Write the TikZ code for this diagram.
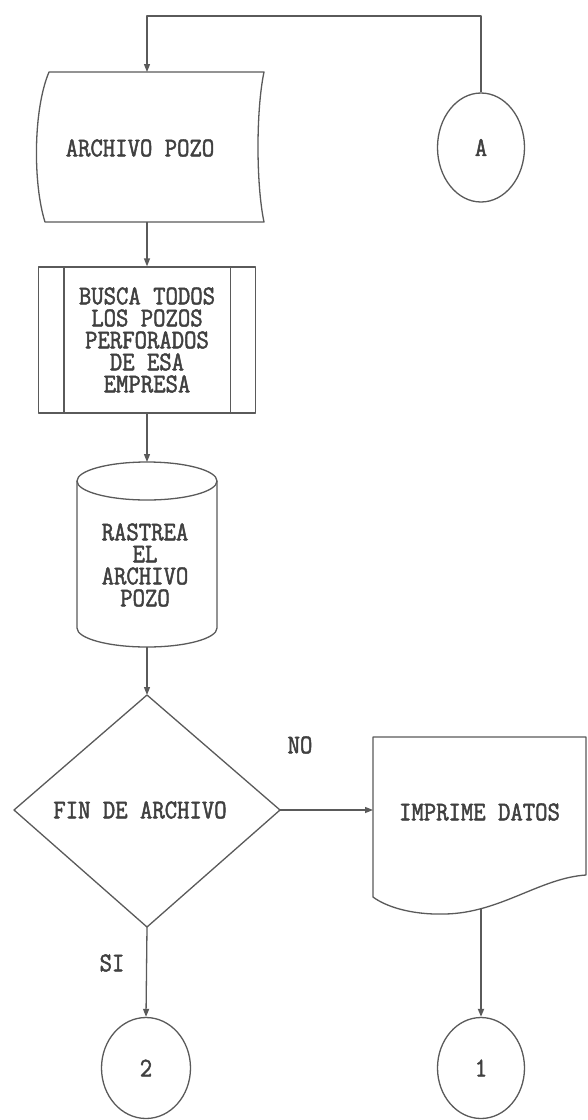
\documentclass[tikz,border=0pt]{standalone}
\usepackage{fontspec}
\newfontfamily\plt[FakeStretch=0.89,FakeBold=1.8]{Latin Modern Mono}
\usetikzlibrary{arrows.meta,shapes.geometric}
\definecolor{ink}{HTML}{5A5A5A}
\definecolor{txt}{HTML}{404040}
\tikzset{
  plotfont/.style={font=\plt\fontsize{27}{22}\selectfont},
  shp/.style={draw=ink, line width=1.3pt, line join=round},
  arr/.style={shp, -{Triangle[length=8pt,width=6pt]}},
  lbl/.style={text=txt, plotfont, align=center, inner sep=0pt},
  conn/.style={shp, ellipse, inner sep=0pt, text=txt, plotfont},
  procbox/.style={shp, rectangle, minimum width=217pt, minimum height=146pt, inner sep=0pt, text=txt, plotfont, align=center}
}
\begin{document}
\begin{tikzpicture}[x=1pt,y=1pt]
\fill[white] (0,0) rectangle (588,-1120);
\useasboundingbox (0,0) rectangle (588,-1120);

% ARCHIVO POZO (stored data)
\draw[shp] (49,-72) -- (264,-72) .. controls (256,-110) and (256,-184) .. (264,-222)
  -- (45,-222) .. controls (33,-184) and (33,-110) .. (49,-72) -- cycle;
\node[lbl] (arch) at (140,-148) {ARCHIVO POZO};
\coordinate (archT) at (147,-72);
\coordinate (archB) at (147,-222);

% connector A
\node[conn, minimum width=87pt, minimum height=109pt] (cA) at (481,-147.5) {A};
\coordinate (loopR) at (481,-16);
\coordinate (loopL) at (147,-16);
\draw[arr] (cA.north) -- (loopR) -- (loopL) -- (archT);

% BUSCA (predefined process)
\node[procbox] (busca) at (147,-340) {BUSCA TODOS\\LOS POZOS\\PERFORADOS\\DE ESA\\EMPRESA};
\draw[shp] ([xshift=26pt]busca.north west) -- ([xshift=26pt]busca.south west);
\draw[shp] ([xshift=-26pt]busca.north east) -- ([xshift=-26pt]busca.south east);
\draw[arr] (archB) -- (busca.north);

% RASTREA (cylinder)
\draw[shp] (147,-481) ellipse [x radius=70pt, y radius=19pt];
\draw[shp] (77,-481) -- (77,-628) arc[start angle=180, end angle=360, x radius=70pt, y radius=19pt] -- (217,-481);
\node[lbl] (cyl) at (145,-565) {RASTREA\\EL\\ARCHIVO\\POZO};
\coordinate (cylT) at (147,-462);
\coordinate (cylB) at (147,-647);
\draw[arr] (busca.south) -- (cylT);

% FIN DE ARCHIVO (decision)
\coordinate (dT) at (147,-695);
\coordinate (dL) at (14,-810);
\coordinate (dR) at (280,-810);
\coordinate (dB) at (147,-927);
\draw[shp] (dT) -- (dR) -- (dB) -- (dL) -- cycle;
\node[lbl] (fin) at (140,-810) {FIN DE ARCHIVO};
\draw[arr] (cylB) -- (dT);

% IMPRIME DATOS (document)
\draw[shp] (373,-737) -- (586,-737) -- (586,-875)
  .. controls (540,-878) and (500,-913) .. (445,-914)
  .. controls (410,-915) and (385,-906) .. (373,-897) -- cycle;
\node[lbl] (doc) at (479.5,-812) {IMPRIME DATOS};
\coordinate (docL) at (373,-810);
\coordinate (docB) at (481,-908);
\draw[arr] (dR) -- (docL);
\node[lbl] (no) at (300,-745) {NO};

% connectors 2 and 1
\node[conn, minimum width=89pt, minimum height=101pt] (c2) at (146,-1068) {2};
\node[conn, minimum width=87pt, minimum height=101pt] (c1) at (481,-1068) {1};
\draw[arr] (dB) -- (c2.north);
\node[lbl] (si) at (112,-963) {SI};
\draw[arr, line width=1.8pt] (docB) -- (c1.north);
\end{tikzpicture}
\end{document}
